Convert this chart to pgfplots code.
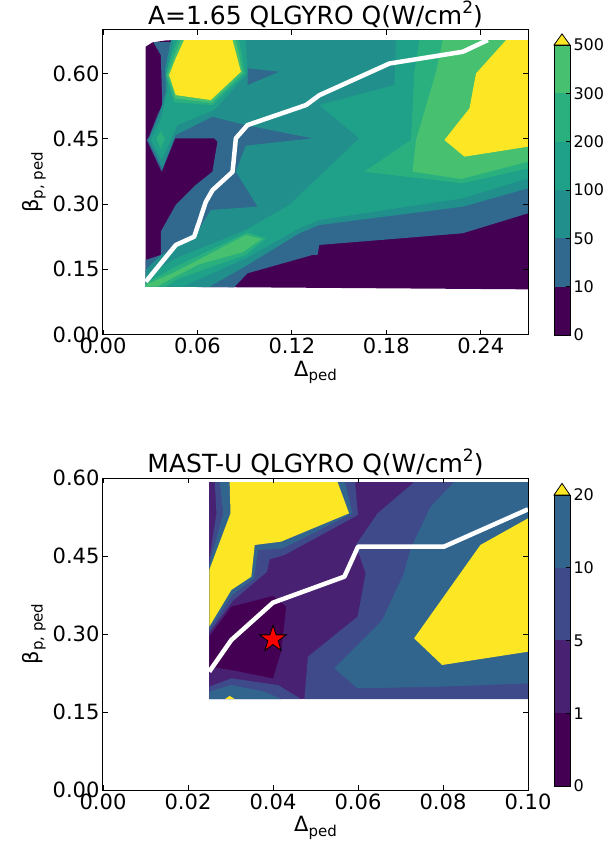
\documentclass[border=0pt]{standalone}
\usepackage{pgfplots}
\pgfplotsset{compat=1.18}
\usepackage{fontspec}
\setmainfont{DejaVu Sans}

% viridis steps used by the two flux maps
\definecolor{q0}{HTML}{440154}
\definecolor{q1}{HTML}{31688E}
\definecolor{q2}{HTML}{21908C}
\definecolor{q3}{HTML}{1FA088}
\definecolor{q4}{HTML}{2AB07F}
\definecolor{q5}{HTML}{47C06F}
\definecolor{qy}{HTML}{FDE725}
\definecolor{m0}{HTML}{440154}
\definecolor{m1}{HTML}{482173}
\definecolor{m2}{HTML}{3E4A89}
\definecolor{m3}{HTML}{32658E}

\newcommand{\sub}[1]{\raisebox{-0.22em}{\fontsize{15}{15}\selectfont #1}}
\newcommand{\sups}[1]{\raisebox{0.42em}{\fontsize{17}{17}\selectfont #1}}

% filled five-pointed star marker
\pgfdeclareplotmark{fstar}{%
  \pgfpathmoveto{\pgfpointpolar{90}{\pgfplotmarksize}}%
  \pgfpathlineto{\pgfpointpolar{126}{0.382\pgfplotmarksize}}%
  \pgfpathlineto{\pgfpointpolar{162}{\pgfplotmarksize}}%
  \pgfpathlineto{\pgfpointpolar{198}{0.382\pgfplotmarksize}}%
  \pgfpathlineto{\pgfpointpolar{234}{\pgfplotmarksize}}%
  \pgfpathlineto{\pgfpointpolar{270}{0.382\pgfplotmarksize}}%
  \pgfpathlineto{\pgfpointpolar{306}{\pgfplotmarksize}}%
  \pgfpathlineto{\pgfpointpolar{342}{0.382\pgfplotmarksize}}%
  \pgfpathlineto{\pgfpointpolar{18}{\pgfplotmarksize}}%
  \pgfpathlineto{\pgfpointpolar{54}{0.382\pgfplotmarksize}}%
  \pgfpathclose
  \pgfusepathqfillstroke
}

\tikzset{
  lv0/.style={fill=q0,draw=none}, lv1/.style={fill=q1,draw=none},
  lv2/.style={fill=q2,draw=none}, lv3/.style={fill=q3,draw=none},
  lv4/.style={fill=q4,draw=none}, lv5/.style={fill=q5,draw=none},
  lvy/.style={fill=qy,draw=none},
  mv0/.style={fill=m0,draw=none}, mv1/.style={fill=m1,draw=none},
  mv2/.style={fill=m2,draw=none}, mv3/.style={fill=m3,draw=none},
  path/.style={white,line width=4.5pt,line join=round},
}

\pgfplotsset{
  qmap/.style={
    scale only axis, axis on top,
    tick align=inside, major tick length=5pt,
    every tick/.style={black,line width=0.9pt},
    axis line style={line width=1pt},
    tick label style={font=\fontsize{21}{21}\selectfont},
    label style={font=\fontsize{21}{21}\selectfont},
    title style={font=\fontsize{25}{25}\selectfont, yshift=-7pt},
    /pgf/number format/assume math mode=true,
    xticklabel style={/pgf/number format/fixed,/pgf/number format/fixed zerofill,/pgf/number format/precision=2},
    yticklabel style={/pgf/number format/fixed,/pgf/number format/fixed zerofill,/pgf/number format/precision=2},
    scaled ticks=false,
  },
  cbar/.style={
    scale only axis, axis on top, clip=false,
    width=16pt, xmin=0, xmax=1, xtick=\empty,
    yticklabel pos=right, ytick pos=right,
    tick align=inside, major tick length=4pt,
    every tick/.style={black,line width=0.8pt},
    axis line style={line width=0.9pt},
    tick label style={font=\fontsize{16}{16}\selectfont},
    /pgf/number format/assume math mode=true,
  },
}

\begin{document}
\begin{tikzpicture}
\path[use as bounding box] (0,0) rectangle (612pt,854pt);

% ---------------- A = 1.65 ----------------
\begin{axis}[qmap, at={(103pt,519.4pt)}, anchor=south west,
  width=425pt, height=304.6pt,
  xmin=0, xmax=0.27, ymin=0, ymax=0.70,
  xtick={0,0.06,0.12,0.18,0.24}, ytick={0,0.15,0.30,0.45,0.60},
  title={A=1.65 QLGYRO Q(W/cm\sups{2})},
  xlabel={Δ\sub{ped}}, ylabel={β\sub{p, ped}}]
% Q < 10
\addplot[lv0] coordinates {(0.0271,0.1103)(0.0271,0.6616)(0.0314,0.6715)(0.0399,0.6761)(0.0462,0.677)(0.27,0.677)(0.27,0.104)};
% Q >= 10
\addplot[lv1] coordinates {(0.0324,0.672)(0.27,0.677)(0.27,0.2787)(0.2285,0.2328)(0.1374,0.2060)(0.1363,0.1830)(0.1331,0.1830)(0.0918,0.1409)(0.0833,0.1087)(0.0271,0.1103)(0.0271,0.1715)(0.0367,0.1830)(0.0367,0.2366)(0.0462,0.2979)(0.0589,0.3438)(0.0695,0.3744)(0.0727,0.4433)(0.0706,0.4510)(0.0458,0.4510)(0.0373,0.3744)(0.0278,0.4472)(0.0293,0.4548)(0.0346,0.5046)(0.0377,0.5276)(0.0367,0.6424)(0.0324,0.6692)};
% Q >= 50
\addplot[lv2] coordinates {(0.0430,0.677)(0.27,0.677)(0.27,0.3361)(0.2285,0.2940)(0.1374,0.2519)(0.1247,0.2328)(0.0918,0.1600)(0.0674,0.1096)(0.0271,0.1103)(0.0271,0.1485)(0.0356,0.1792)(0.0462,0.2021)(0.0611,0.2427)(0.0685,0.2864)(0.0982,0.2940)(0.0844,0.3744)(0.0907,0.4342)(0.1331,0.4510)(0.0907,0.4816)(0.0695,0.5008)(0.0462,0.4587)(0.0377,0.3821)(0.0288,0.4472)(0.0356,0.5046)(0.0399,0.5582)(0.0395,0.6118)(0.0430,0.6730)};
\addplot[lv1] coordinates {(0.0918,0.6118)(0.1119,0.6041)(0.0918,0.5735)};
% Q >= 100
\addplot[lv3] coordinates {(0.0445,0.677)(0.0907,0.677)(0.0918,0.6003)(0.0706,0.5161)(0.0473,0.4816)(0.0373,0.4012)(0.0303,0.4472)(0.0373,0.5008)(0.0409,0.5582)(0.0409,0.6118)(0.0445,0.6692)};
\addplot[lv3] coordinates {(0.1861,0.677)(0.27,0.677)(0.27,0.3591)(0.2285,0.3132)(0.1374,0.2634)(0.1247,0.2443)(0.0907,0.1753)(0.0505,0.1102)(0.0271,0.1103)(0.0271,0.1332)(0.0462,0.1753)(0.0674,0.2060)(0.0907,0.2404)(0.1183,0.2979)(0.1628,0.4510)(0.1374,0.5276)(0.1851,0.5735)};
% Q >= 200
\addplot[lv4] coordinates {(0.0473,0.677)(0.0865,0.677)(0.0901,0.6003)(0.0695,0.5276)(0.0452,0.5337)(0.0399,0.5965)(0.0437,0.6424)};
\addplot[lv4] coordinates {(0.0339,0.4510)(0.0367,0.4678)(0.0392,0.4510)(0.0367,0.4265)};
\addplot[lv4] coordinates {(0.0271,0.1179)(0.0462,0.1562)(0.0695,0.1968)(0.0918,0.2351)(0.1035,0.2213)(0.0907,0.1830)(0.0674,0.1539)(0.0462,0.1256)(0.0399,0.1102)(0.0271,0.1103)};
\addplot[lv4] coordinates {(0.2010,0.677)(0.27,0.677)(0.27,0.3821)(0.2285,0.3476)(0.1660,0.3744)(0.1957,0.4472)(0.1978,0.6041)};
% Q >= 300
\addplot[lv5] coordinates {(0.0494,0.677)(0.0844,0.677)(0.0888,0.6018)(0.0689,0.5329)(0.0458,0.5429)(0.0409,0.5965)(0.0452,0.6386)};
\addplot[lv5] coordinates {(0.0271,0.1103)(0.0271,0.1141)(0.0462,0.1447)(0.0907,0.2289)(0.1009,0.2198)(0.0886,0.1891)(0.0611,0.1616)(0.0399,0.1217)(0.0346,0.1102)};
\addplot[lv5] coordinates {(0.2158,0.677)(0.27,0.677)(0.27,0.3974)(0.2275,0.3576)(0.1967,0.3744)(0.1989,0.4472)(0.2116,0.6041)};
% Q >= 500
\addplot[lvy] coordinates {(0.0515,0.677)(0.0823,0.677)(0.0876,0.6041)(0.0685,0.5390)(0.0462,0.5505)(0.0420,0.5965)(0.0462,0.6348)};
\addplot[lvy] coordinates {(0.2561,0.677)(0.27,0.677)(0.27,0.4319)(0.2296,0.4089)(0.2169,0.4472)(0.2328,0.5199)(0.2370,0.6003)};
% boundary path
\addplot[path] coordinates {(0.0272,0.1215)(0.0463,0.206)(0.0579,0.225)(0.0611,0.259)(0.0653,0.305)(0.0696,0.332)(0.0823,0.374)(0.0844,0.451)(0.0918,0.4815)(0.129,0.5275)(0.1374,0.550)(0.182,0.623)(0.2286,0.650)(0.2445,0.677)};
\end{axis}

\begin{axis}[cbar, at={(554pt,519pt)}, anchor=south west, height=290pt,
  ymin=0, ymax=6, ytick={0,1,2,3,4,5,6}, yticklabels={0,10,50,100,200,300,500}]
\addplot[lv0] coordinates {(0,0)(1,0)(1,1)(0,1)};
\addplot[lv1] coordinates {(0,1)(1,1)(1,2)(0,2)};
\addplot[lv2] coordinates {(0,2)(1,2)(1,3)(0,3)};
\addplot[lv3] coordinates {(0,3)(1,3)(1,4)(0,4)};
\addplot[lv4] coordinates {(0,4)(1,4)(1,5)(0,5)};
\addplot[lv5] coordinates {(0,5)(1,5)(1,6)(0,6)};
\addplot[fill=qy,draw=black,line width=0.8pt] coordinates {(0,6)(0.5,6.23)(1,6)} -- cycle;
\end{axis}

% ---------------- MAST-U ----------------
\begin{axis}[qmap, at={(103pt,64pt)}, anchor=south west,
  width=425pt, height=312pt,
  xmin=0, xmax=0.1, ymin=0, ymax=0.6,
  xtick={0,0.02,0.04,0.06,0.08,0.10}, ytick={0,0.15,0.30,0.45,0.60},
  title={MAST-U QLGYRO Q(W/cm\sups{2})},
  xlabel={Δ\sub{ped}}, ylabel={β\sub{p, ped}}]
% 1 <= Q < 5 over the scanned range
\addplot[mv1] coordinates {(0.025,0.175)(0.1,0.175)(0.1,0.592)(0.025,0.592)};
% Q < 1
\addplot[mv0] coordinates {(0.025,0.2949)(0.0302,0.3526)(0.0400,0.3731)(0.0431,0.3526)(0.0419,0.2660)(0.0400,0.2147)(0.0302,0.2308)(0.025,0.2372)};
% Q >= 5
\addplot[mv2] coordinates {(0.0263,0.592)(0.0593,0.592)(0.0600,0.5289)(0.0427,0.4519)(0.0392,0.4436)(0.0386,0.4199)(0.0306,0.3641)(0.025,0.3026)(0.025,0.4423)(0.0267,0.5321)};
\addplot[mv2] coordinates {(0.0732,0.592)(0.1,0.592)(0.1,0.175)(0.0474,0.175)(0.0482,0.2564)(0.0599,0.3333)(0.0618,0.4167)(0.0595,0.4712)(0.0646,0.5321)};
\addplot[mv2] coordinates {(0.025,0.1987)(0.0302,0.2147)(0.0412,0.2019)(0.0466,0.175)(0.025,0.175)};
% Q >= 10
\addplot[mv3] coordinates {(0.0275,0.592)(0.0569,0.592)(0.0587,0.5321)(0.0423,0.4647)(0.0365,0.4615)(0.0355,0.4071)(0.0304,0.3750)(0.025,0.3090)(0.025,0.4327)(0.0283,0.5321)};
\addplot[mv3] coordinates {(0.0826,0.592)(0.1,0.592)(0.1,0.2051)(0.0798,0.1987)(0.0599,0.1955)(0.0544,0.2340)(0.0657,0.3269)(0.0708,0.4167)(0.0724,0.4647)(0.0771,0.5449)};
\addplot[mv3] coordinates {(0.025,0.1891)(0.0302,0.2019)(0.0380,0.1891)(0.0419,0.175)(0.025,0.175)};
% Q >= 20
\addplot[lvy] coordinates {(0.0298,0.592)(0.0552,0.592)(0.0579,0.5321)(0.0419,0.4776)(0.0357,0.4712)(0.0349,0.4103)(0.0302,0.3846)(0.025,0.3141)(0.025,0.4231)(0.0300,0.5321)};
\addplot[lvy] coordinates {(0.0888,0.4712)(0.1,0.5224)(0.1,0.2660)(0.0798,0.2404)(0.0732,0.2917)};
\addplot[lvy] coordinates {(0.0287,0.175)(0.0298,0.1808)(0.0310,0.175)};
% boundary path and reference case
\addplot[path] coordinates {(0.025,0.2276)(0.0302,0.2885)(0.0400,0.3603)(0.0568,0.4103)(0.0600,0.4679)(0.0802,0.4679)(0.1,0.5398)};
\addplot[only marks, mark=fstar, mark size=14pt, mark options={fill=red,draw=black,line width=0.8pt}] coordinates {(0.040,0.29)};
\end{axis}

\begin{axis}[cbar, at={(554pt,68pt)}, anchor=south west, height=291pt,
  ymin=0, ymax=4, ytick={0,1,2,3,4}, yticklabels={0,1,5,10,20}]
\addplot[mv0] coordinates {(0,0)(1,0)(1,1)(0,1)};
\addplot[mv1] coordinates {(0,1)(1,1)(1,2)(0,2)};
\addplot[mv2] coordinates {(0,2)(1,2)(1,3)(0,3)};
\addplot[mv3] coordinates {(0,3)(1,3)(1,4)(0,4)};
\addplot[fill=qy,draw=black,line width=0.8pt] coordinates {(0,4)(0.5,4.16)(1,4)} -- cycle;
\end{axis}
\end{tikzpicture}
\end{document}
